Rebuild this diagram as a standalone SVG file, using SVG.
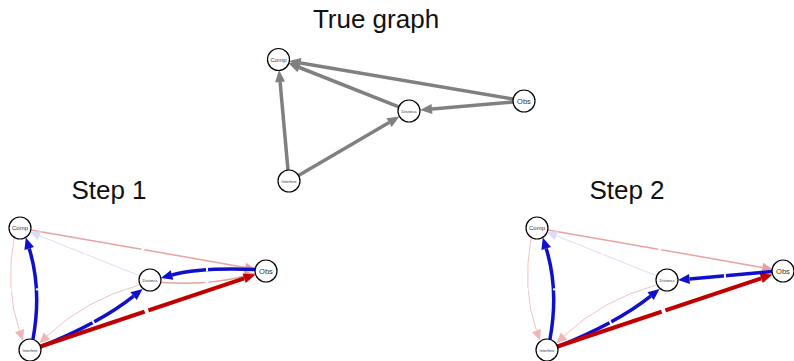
<svg xmlns="http://www.w3.org/2000/svg" width="794" height="361" viewBox="0 0 794 361">
<style>
.title{font-family:"Liberation Sans",Arial,sans-serif;font-size:26px;fill:#111;text-anchor:middle}
.node circle{fill:#fff;stroke:#000;stroke-width:1.2}
.node text{font-family:"Liberation Sans",Arial,sans-serif;fill:#333;text-anchor:middle;dominant-baseline:central}
.e{fill:none;stroke-linecap:butt}
.gray{stroke:#808080;stroke-width:3.5;marker-end:url(#aG)}
.blue{stroke:#1010cc;stroke-width:3.5;marker-end:url(#aB)}
.red{stroke:#c00000;stroke-width:4;marker-end:url(#aR)}
.lred{stroke:#e8a2a2;stroke-width:1.5;marker-end:url(#aLR)}
.lav{stroke:#dcdcf6;stroke-width:1;marker-end:url(#aLV)}
.pink{stroke:#f3c2c2;stroke-width:1;marker-end:url(#aPK)}
.tick{fill:#fff}
</style>
<defs>
<marker id="aG" markerUnits="userSpaceOnUse" markerWidth="13" markerHeight="11" viewBox="0 -5.5 13 11" refX="0" refY="0" orient="auto" overflow="visible"><path d="M0,-5 L12,0 L0,5z" fill="#808080"/></marker>
<marker id="aB" markerUnits="userSpaceOnUse" markerWidth="13" markerHeight="11" viewBox="0 -5.5 13 11" refX="0" refY="0" orient="auto" overflow="visible"><path d="M0,-5 L11.5,0 L0,5z" fill="#1010cc"/></marker>
<marker id="aR" markerUnits="userSpaceOnUse" markerWidth="13" markerHeight="11" viewBox="0 -5.5 13 11" refX="0" refY="0" orient="auto" overflow="visible"><path d="M0,-5 L12,0 L0,5z" fill="#c00000"/></marker>
<marker id="aLR" markerUnits="userSpaceOnUse" markerWidth="12" markerHeight="10" viewBox="0 -5 12 10" refX="0" refY="0" orient="auto" overflow="visible"><path d="M0,-4.8 L10.5,0 L0,4.8z" fill="#e8a2a2"/></marker>
<marker id="aLV" markerUnits="userSpaceOnUse" markerWidth="12" markerHeight="10" viewBox="0 -5 12 10" refX="0" refY="0" orient="auto" overflow="visible"><path d="M0,-4.8 L10.5,0 L0,4.8z" fill="#dcdcf6"/></marker>
<marker id="aPK" markerUnits="userSpaceOnUse" markerWidth="12" markerHeight="10" viewBox="0 -5 12 10" refX="0" refY="0" orient="auto" overflow="visible"><path d="M0,-4.8 L10.5,0 L0,4.8z" fill="#eeb6b6"/></marker>
</defs>
<rect width="794" height="361" fill="#fff"/>

<!-- True graph -->
<text class="title" x="376" y="28">True graph</text>
<g id="tg-connectors">
<path class="e gray" d="M513.2,99.1 L300.6,62.9"/>
<path class="e gray" d="M398.8,106.9 L299.4,67.5"/>
<path class="e gray" d="M513,102 L432,109"/>
<path class="e gray" d="M288,170 L280.1,82"/>
<path class="e gray" d="M298.5,175.5 L389.1,122.6"/>
</g>
<g id="tg-comp" class="node"><circle cx="278.5" cy="59.5" r="11"/><text x="278.5" y="59.5" font-size="6">Comp</text></g>
<g id="tg-obs" class="node"><circle cx="524" cy="101" r="11"/><text x="524" y="101" font-size="7.5">Obs</text></g>
<g id="tg-distress" class="node"><circle cx="409" cy="111" r="11"/><text x="409" y="111" font-size="4.2">Distress</text></g>
<g id="tg-interfere" class="node"><circle cx="289" cy="181" r="11"/><text x="289" y="181" font-size="4">Interfere</text></g>

<!-- Step 1 -->
<text class="title" x="109" y="199">Step 1</text>
<g id="s1-connectors">
<path class="e lred" d="M30.8,229.9 L245.3,267.4"/>
<path class="e lav" d="M139.8,275.9 L39.5,235.8"/>
<path class="e pink" d="M14,238 Q5,290 19.5,330.6"/>
<path class="e pink" d="M139,285 Q85,300 47,336"/>
<path class="e lred" d="M161,282.5 Q210,285.5 245,276"/>
<path class="e blue" d="M33,339 Q42,290 29.2,248.5"/>
<path class="e blue" d="M40,347 Q100,323 133.6,296.1"/>
<path class="e red" d="M40.4,346.5 L244.2,278.3"/>
<path class="e blue" d="M255,269.5 Q200,267.5 172,275"/>
<rect class="tick" x="-1.5" y="-1.2" width="3" height="2.4" transform="translate(143,249) rotate(10)"/>
<rect class="tick" x="-1.5" y="-1" width="3" height="2" transform="translate(85,255) rotate(22)"/>
<rect class="tick" x="-1.5" y="-1" width="3" height="2" transform="translate(10.5,290) rotate(88)"/>
<rect class="tick" x="-1.5" y="-1" width="3" height="2" transform="translate(83.5,306) rotate(-30)"/>
<rect class="tick" x="-1.5" y="-1.2" width="3" height="2.4" transform="translate(207,282) rotate(-4)"/>
<rect class="tick" x="-1" y="-2.5" width="2" height="5" transform="translate(38.5,289.5) rotate(95)"/>
<rect class="tick" x="-1" y="-2.5" width="2" height="5" transform="translate(93.5,322.5) rotate(-28)"/>
<rect class="tick" x="-2" y="-3" width="4" height="6" transform="translate(146.5,311) rotate(-18.5)"/>
<rect class="tick" x="-1" y="-2.5" width="2" height="5" transform="translate(207,269) rotate(1)"/>
</g>
<g id="s1-comp" class="node"><circle cx="20" cy="228" r="11"/><text x="20" y="228" font-size="6">Comp</text></g>
<g id="s1-obs" class="node"><circle cx="266" cy="271" r="11"/><text x="266" y="271" font-size="7.5">Obs</text></g>
<g id="s1-distress" class="node"><circle cx="150" cy="280" r="11"/><text x="150" y="280" font-size="4.2">Distress</text></g>
<g id="s1-interfere" class="node"><circle cx="30" cy="350" r="11"/><text x="30" y="350" font-size="4">Interfere</text></g>

<!-- Step 2 -->
<text class="title" x="627" y="199">Step 2</text>
<g id="s2-connectors" transform="translate(517,0)">
<path class="e lred" d="M30.8,229.9 L245.3,267.4"/>
<path class="e lav" d="M139.8,275.9 L39.5,235.8"/>
<path class="e pink" d="M14,238 Q5,290 19.5,330.6"/>
<path class="e pink" d="M139,285 Q85,300 47,336"/>
<path class="e blue" d="M33,339 Q42,290 29.2,248.5"/>
<path class="e blue" d="M40,347 Q100,323 133.6,296.1"/>
<path class="e red" d="M40.4,346.5 L244.2,278.3"/>
<path class="e blue" d="M255,271.5 L172.5,279"/>
<rect class="tick" x="-1.5" y="-1.2" width="3" height="2.4" transform="translate(143,249) rotate(10)"/>
<rect class="tick" x="-1.5" y="-1" width="3" height="2" transform="translate(85,255) rotate(22)"/>
<rect class="tick" x="-1.5" y="-1" width="3" height="2" transform="translate(10.5,290) rotate(88)"/>
<rect class="tick" x="-1.5" y="-1" width="3" height="2" transform="translate(83.5,306) rotate(-30)"/>
<rect class="tick" x="-1" y="-2.5" width="2" height="5" transform="translate(38.5,289.5) rotate(95)"/>
<rect class="tick" x="-1" y="-2.5" width="2" height="5" transform="translate(93.5,322.5) rotate(-28)"/>
<rect class="tick" x="-2" y="-3" width="4" height="6" transform="translate(146.5,311) rotate(-18.5)"/>
<rect class="tick" x="-1" y="-2.5" width="2" height="5" transform="translate(208,276.5) rotate(-5)"/>
</g>
<g id="s2-comp" class="node"><circle cx="537" cy="228" r="11"/><text x="537" y="228" font-size="6">Comp</text></g>
<g id="s2-obs" class="node"><circle cx="783" cy="271" r="11"/><text x="783" y="271" font-size="7.5">Obs</text></g>
<g id="s2-distress" class="node"><circle cx="667" cy="280" r="11"/><text x="667" y="280" font-size="4.2">Distress</text></g>
<g id="s2-interfere" class="node"><circle cx="547" cy="350" r="11"/><text x="547" y="350" font-size="4">Interfere</text></g>
</svg>
